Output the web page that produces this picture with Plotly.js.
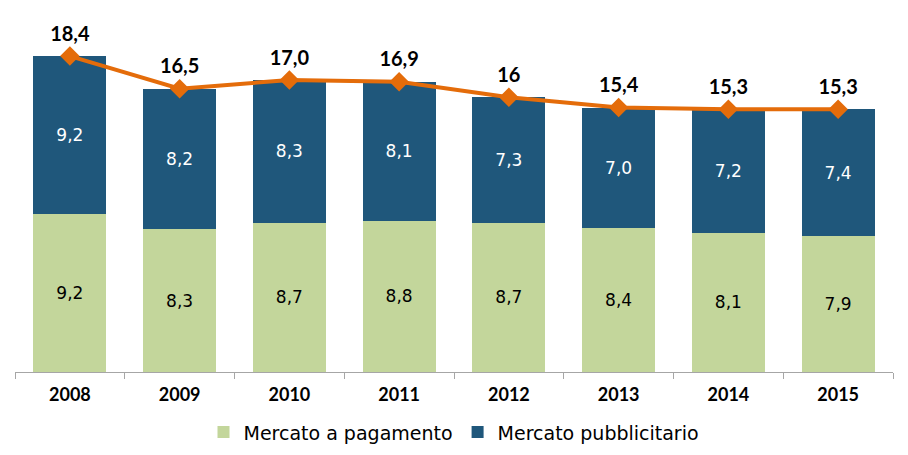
<!DOCTYPE html>
<html>
<head>
<meta charset="utf-8">
<script src="https://cdn.plot.ly/plotly-3.0.1.min.js"></script>
<style>html,body{margin:0;padding:0;background:#fff;}#chart{width:908px;height:455px;}</style>
</head>
<body>
<div id="chart"></div>
<script>
const years = ['2008','2009','2010','2011','2012','2013','2014','2015'];
const pagamento = [9.2, 8.3, 8.7, 8.8, 8.7, 8.4, 8.1, 7.9];
const pubblicitario = [9.2, 8.2, 8.3, 8.1, 7.3, 7.0, 7.2, 7.4];
const totali = [18.4, 16.5, 17.0, 16.9, 16.0, 15.4, 15.3, 15.3];
const totaliLabels = ['18,4', '16,5', '17,0', '16,9', '16', '15,4', '15,3', '15,3'];

const fmt = v => v.toFixed(1).replace('.', ',');
const FONT = 'DejaVu Sans, sans-serif';
const BOLD = 'Lato, DejaVu Sans, sans-serif';

const data = [
  {
    type: 'bar', name: 'Mercato a pagamento', x: years, y: pagamento,
    marker: {color: '#c3d69b'},
    text: pagamento.map(fmt), textposition: 'inside', insidetextanchor: 'middle',
    textangle: 0, constraintext: 'none',
    textfont: {family: FONT, size: 17, color: '#000000'},
    hoverinfo: 'skip'
  },
  {
    type: 'bar', name: 'Mercato pubblicitario', x: years, y: pubblicitario,
    marker: {color: '#1f577b'},
    text: pubblicitario.map(fmt), textposition: 'inside', insidetextanchor: 'middle',
    textangle: 0, constraintext: 'none',
    textfont: {family: FONT, size: 17, color: '#ffffff'},
    hoverinfo: 'skip'
  },
  {
    type: 'scatter', mode: 'lines+markers+text', x: years, y: totali,
    showlegend: false,
    line: {color: '#e46c0a', width: 4},
    marker: {symbol: 'diamond', size: 15, color: '#e46c0a'},
    text: totaliLabels, textposition: 'top center',
    textfont: {family: BOLD, size: 20, color: '#000000', weight: 'bold'},
    cliponaxis: false,
    hoverinfo: 'skip'
  }
];

const layout = {
  width: 908, height: 455,
  margin: {l: 15, r: 15, t: 20, b: 83},
  paper_bgcolor: '#ffffff', plot_bgcolor: '#ffffff',
  barmode: 'stack', bargap: 0.335,
  font: {family: FONT, color: '#000000'},
  xaxis: {
    type: 'category',
    showline: true, linecolor: '#a6a6a6', linewidth: 1,
    ticks: 'outside', tickson: 'boundaries', ticklen: 6, tickcolor: '#a6a6a6',
    ticklabelstandoff: 6,
    tickfont: {family: BOLD, size: 18, color: '#000000', weight: 'bold'},
    showgrid: false, zeroline: false
  },
  yaxis: {
    range: [0, 20.5], visible: false, showgrid: false, zeroline: false
  },
  showlegend: true,
  legend: {
    orientation: 'h', x: 0.5, xanchor: 'center',
    yref: 'container', y: 0.05, yanchor: 'middle',
    font: {family: FONT, size: 19, color: '#000000'},
    traceorder: 'normal'
  }
};

Plotly.newPlot('chart', data, layout, {displayModeBar: false, staticPlot: true});
</script>
</body>
</html>
